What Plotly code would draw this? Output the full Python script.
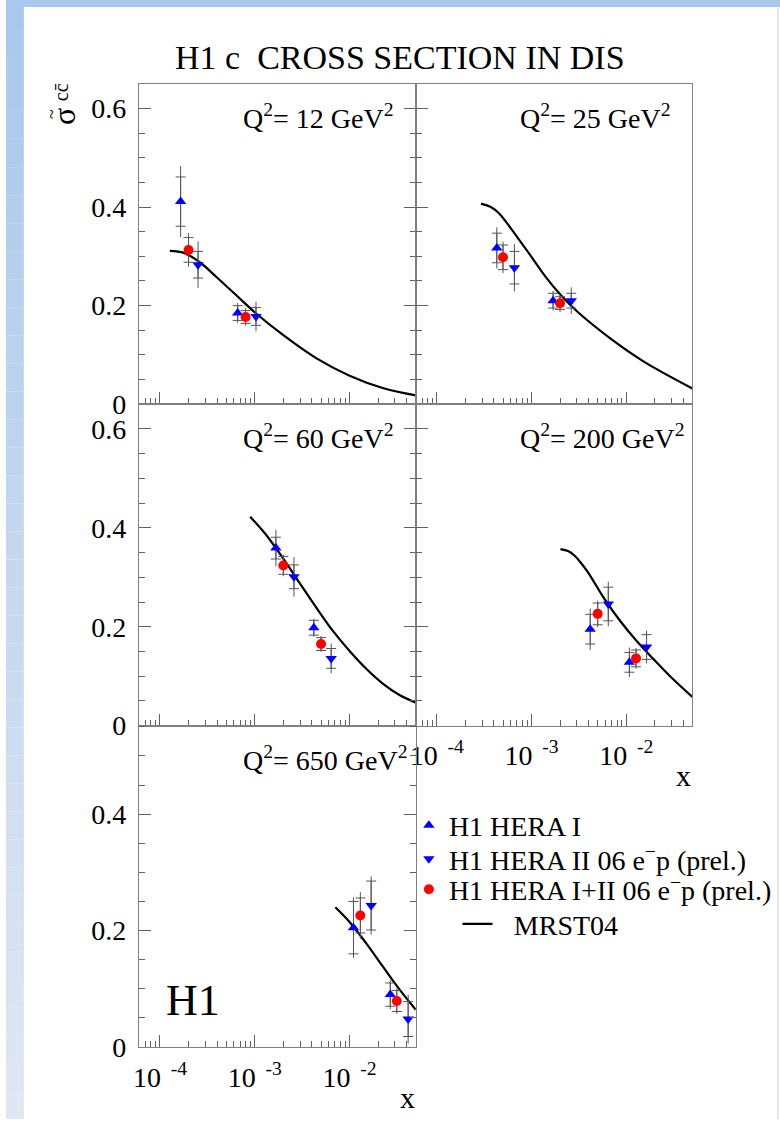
import math
import plotly.graph_objects as go

W, H = 780, 1135
FONT = "Liberation Serif, Times New Roman, Times, Tinos, DejaVu Serif, serif"

# ---------------- data ----------------
Q2_LABELS = ["12", "25", "60", "200", "650"]

# H1 HERA I  (upward triangles), one inner list per Q2 panel
HERA1_X = [[1.65e-4, 6.6e-4], [4.3e-4, 1.69e-3], [1.67e-3, 4.2e-3], [4.17e-3, 1.08e-2], [1.1e-2, 2.69e-2]]
HERA1_Y = [[0.411, 0.185], [0.317, 0.210], [0.359, 0.198], [0.195, 0.128], [0.205, 0.090]]
HERA1_STAT = [[0.050, 0.015], [0.030, 0.015], [0.022, 0.015], [0.030, 0.020], [0.045, 0.020]]
HERA1_TOT = [[0.072, 0.020], [0.042, 0.020], [0.037, 0.018], [0.042, 0.030], [0.052, 0.025]]

# H1 HERA II 06 e-p (downward triangles)
HERA2_X = [[2.52e-4, 1.03e-3], [6.6e-4, 2.63e-3], [2.59e-3, 6.4e-3], [6.47e-3, 1.64e-2], [1.69e-2, 4.15e-2]]
HERA2_Y = [[0.283, 0.178], [0.277, 0.210], [0.301, 0.136], [0.246, 0.159], [0.243, 0.048]]
HERA2_STAT = [[0.027, 0.018], [0.033, 0.015], [0.024, 0.020], [0.034, 0.025], [0.042, 0.030]]
HERA2_TOT = [[0.047, 0.030], [0.048, 0.027], [0.040, 0.030], [0.045, 0.033], [0.050, 0.042]]

# H1 HERA I+II 06 e-p (circles)
COMB_X = [[2.0e-4, 8.0e-4], [5.0e-4, 2.0e-3], [2.0e-3, 5.0e-3], [5.0e-3, 1.27e-2], [1.3e-2, 3.15e-2]]
COMB_Y = [[0.313, 0.177], [0.298, 0.205], [0.324, 0.165], [0.226, 0.136], [0.226, 0.079]]
COMB_STAT = [[0.025, 0.013], [0.025, 0.013], [0.018, 0.013], [0.022, 0.017], [0.030, 0.018]]
COMB_TOT = [[0.034, 0.018], [0.032, 0.018], [0.022, 0.016], [0.027, 0.021], [0.040, 0.022]]

# MRST04 prediction curves
MRST_X = [
    [1.27e-4, 1.79e-4, 2.67e-4, 3.99e-4, 6.47e-4, 1.02e-3, 2.0e-3, 4.48e-3, 1.0e-2, 2.24e-2, 5.0e-2],
    [2.93e-4, 3.72e-4, 4.55e-4, 5.33e-4, 6.25e-4, 9.33e-4, 1.39e-3, 2.07e-3, 3.08e-3, 6.84e-3,
     1.52e-2, 5.0e-2],
    [8.93e-4, 1.34e-3, 2.0e-3, 2.99e-3, 4.48e-3, 6.7e-3, 1.0e-2, 1.5e-2, 2.24e-2, 3.36e-2, 5.0e-2],
    [2.02e-3, 2.43e-3, 2.84e-3, 3.33e-3, 3.92e-3, 5.82e-3, 8.69e-3, 1.29e-2, 1.93e-2, 2.87e-2, 5.0e-2],
    [7.08e-3, 1.0e-2, 1.5e-2, 2.24e-2, 3.36e-2, 5.0e-2],
]
MRST_Y = [
    [0.311, 0.307, 0.287, 0.257, 0.220, 0.185, 0.140, 0.093, 0.058, 0.033, 0.018],
    [0.407, 0.400, 0.387, 0.371, 0.353, 0.307, 0.260, 0.220, 0.187, 0.133, 0.087, 0.032],
    [0.4226, 0.384, 0.3375, 0.2876, 0.238, 0.191, 0.151, 0.115, 0.085, 0.062, 0.0465],
    [0.357, 0.353, 0.344, 0.329, 0.311, 0.258, 0.211, 0.171, 0.135, 0.101, 0.058],
    [0.240, 0.2147, 0.178, 0.1385, 0.099, 0.064],
]

X_TICKS = [1e-4, 1e-3, 1e-2]
X_TICK_TEXT = ["10<sup>\u2002-4</sup>", "10<sup>\u2002-3</sup>", "10<sup>\u2002-2</sup>"]
Y_TICKS = [0, 0.2, 0.4, 0.6]
Y_TICK_TEXT = ["0", "0.2", "0.4", "0.6"]

# ---------------- layout geometry ----------------
PANEL_COL = [0, 1, 0, 1, 0]
PANEL_ROW = [0, 0, 1, 1, 2]
COL_PX = [(134, 413), (413, 691.7)]
ROW_PX = [(85, 410), (410, 736), (736, 1062)]
Y_MAX = [0.65, 0.65, 0.65, 0.65, 0.552]
X_RANGE = [6e-5, 0.05]

BLUE = "#0000ff"
RED = "#ff0000"
ERRC = "#555555"
AXC = "#808080"
TICKC = "#606060"

x_minor = [m * 10.0 ** e for e in (-5, -4, -3, -2) for m in range(2, 10)
           if X_RANGE[0] <= m * 10.0 ** e <= X_RANGE[1]]

fig = go.Figure()

series = [
    ("H1 HERA I", HERA1_X, HERA1_Y, HERA1_STAT, HERA1_TOT, "triangle-up", BLUE, "legend"),
    ("H1 HERA II 06 e<sup>\u2212</sup>p (prel.)", HERA2_X, HERA2_Y, HERA2_STAT, HERA2_TOT,
     "triangle-down", BLUE, "legend2"),
    ("H1 HERA I+II 06 e<sup>\u2212</sup>p (prel.)", COMB_X, COMB_Y, COMB_STAT, COMB_TOT,
     "circle", RED, "legend3"),
]

for i in range(5):
    xa = "x" if i == 0 else f"x{i + 1}"
    ya = "y" if i == 0 else f"y{i + 1}"
    first = i == 0
    fig.add_trace(go.Scatter(
        x=MRST_X[i], y=MRST_Y[i], mode="lines", line=dict(color="black", width=2.2, shape="spline"),
        name="\u2002\u200aMRST04", legend="legend4", showlegend=first, xaxis=xa, yaxis=ya,
        hoverinfo="skip"))
    for name, sx, sy, sst, stot, sym, col, lg in series:
        fig.add_trace(go.Scatter(
            x=sx[i], y=sy[i], mode="markers", marker=dict(size=1, color="rgba(0,0,0,0)"),
            error_y=dict(type="data", array=stot[i], visible=True, color=ERRC, thickness=1, width=0),
            showlegend=False, xaxis=xa, yaxis=ya, hoverinfo="skip"))
    for name, sx, sy, sst, stot, sym, col, lg in series:
        fig.add_trace(go.Scatter(
            x=sx[i], y=sy[i], mode="markers", name=name,
            marker=dict(symbol=sym, size=10, color=col, line=dict(width=0)),
            error_y=dict(type="data", array=sst[i], visible=True, color=ERRC, thickness=1, width=5),
            showlegend=first, legend=lg, xaxis=xa, yaxis=ya))

layout = dict(
    width=W, height=H, autosize=False,
    margin=dict(l=0, r=0, t=0, b=0),
    paper_bgcolor="white", plot_bgcolor="white",
    font=dict(family=FONT, color="black"),
)

for i in range(5):
    c, r = PANEL_COL[i], PANEL_ROW[i]
    x0, x1 = COL_PX[c]
    yt, yb = ROW_PX[r]
    xk = "xaxis" if i == 0 else f"xaxis{i + 1}"
    yk = "yaxis" if i == 0 else f"yaxis{i + 1}"
    xa = "x" if i == 0 else f"x{i + 1}"
    ya = "y" if i == 0 else f"y{i + 1}"
    layout[xk] = dict(
        type="log", range=[math.log10(X_RANGE[0]), math.log10(X_RANGE[1])],
        domain=[x0 / W, x1 / W], anchor=ya,
        showline=True, linecolor=AXC, linewidth=1, mirror=True,
        ticks="inside", ticklen=12, tickwidth=1, tickcolor=TICKC,
        tickmode="array", tickvals=X_TICKS, ticktext=X_TICK_TEXT,
        showticklabels=i in (3, 4), ticklabelstandoff=5,
        tickfont=dict(family=FONT, size=28, color="black"),
        minor=dict(ticks="inside", ticklen=6, tickwidth=1, tickcolor=TICKC,
                   tickmode="array", tickvals=x_minor, showgrid=False),
        showgrid=False, zeroline=False, fixedrange=True,
    )
    layout[yk] = dict(
        range=[0, Y_MAX[i]], domain=[1 - yb / H, 1 - yt / H], anchor=xa,
        showline=True, linecolor=AXC, linewidth=1, mirror="ticks" if c == 0 else True,
        ticks="inside", ticklen=12, tickwidth=1, tickcolor=TICKC,
        tickmode="array", tickvals=Y_TICKS, ticktext=Y_TICK_TEXT,
        showticklabels=c == 0, ticklabelstandoff=6,
        tickfont=dict(family=FONT, size=28, color="black"),
        minor=dict(ticks="inside", ticklen=6, tickwidth=1, tickcolor=TICKC,
                   tickmode="linear", tick0=0, dtick=0.05, showgrid=False),
        showgrid=False, zeroline=False, fixedrange=True,
    )

# one legend box per entry, so the rows sit where the reference puts them
LEGEND_TOPS = {"legend": (406, 812), "legend2": (406, 846), "legend3": (406, 877), "legend4": (455, 912)}
for key, (lx, ly) in LEGEND_TOPS.items():
    layout[key] = dict(
        x=lx / W, y=1 - ly / H, xanchor="left", yanchor="top",
        font=dict(family=FONT, size=28, color="black"), bgcolor="rgba(0,0,0,0)",
        itemclick=False, itemdoubleclick=False,
    )

annotations = []
annotations.append(dict(text="H1 c\u00a0 CROSS SECTION IN DIS", x=397 / W, y=1 - 58 / H,
                        xref="paper", yref="paper", xanchor="center", yanchor="middle",
                        showarrow=False, font=dict(family=FONT, size=34, color="black")))
for i in range(5):
    c, r = PANEL_COL[i], PANEL_ROW[i]
    annotations.append(dict(
        text=f"Q<sup>2</sup>= {Q2_LABELS[i]} GeV<sup>2</sup>",
        x=(COL_PX[c][0] + 103) / W, y=1 - (ROW_PX[r][0] + 33) / H,
        xref="paper", yref="paper", xanchor="left", yanchor="middle",
        showarrow=False, font=dict(family=FONT, size=28, color="black")))
# y-axis title: sigma-tilde with c c-bar superscript, rotated
annotations.append(dict(text="\u03c3", x=59 / W, y=1 - 118 / H,
                        xref="paper", yref="paper", xanchor="center", yanchor="middle",
                        textangle=-90, showarrow=False,
                        font=dict(family=FONT, size=32, color="black")))
annotations.append(dict(text="cc\u0304", x=55 / W, y=1 - 94 / H,
                        xref="paper", yref="paper", xanchor="center", yanchor="middle",
                        textangle=-90, showarrow=False,
                        font=dict(family=FONT, size=20, color="black")))
annotations.append(dict(text="~", x=47 / W, y=1 - 116 / H,
                        xref="paper", yref="paper", xanchor="center", yanchor="middle",
                        textangle=-90, showarrow=False,
                        font=dict(family=FONT, size=18, color="black")))
annotations.append(dict(text="x", x=405 / W, y=1 - 1113 / H, xref="paper", yref="paper",
                        xanchor="center", yanchor="middle", showarrow=False,
                        font=dict(family=FONT, size=30, color="black")))
annotations.append(dict(text="x", x=683 / W, y=1 - 787 / H, xref="paper", yref="paper",
                        xanchor="center", yanchor="middle", showarrow=False,
                        font=dict(family=FONT, size=30, color="black")))
annotations.append(dict(text="H1", x=188 / W, y=1 - 1015 / H, xref="paper", yref="paper",
                        xanchor="center", yanchor="middle", showarrow=False,
                        font=dict(family=FONT, size=44, color="black")))
layout["annotations"] = annotations

# background frame: light-blue band on top and gradient band on the left
shapes = [dict(type="rect", xref="paper", yref="paper", x0=0, x1=1, y0=1 - 7 / H, y1=1,
               fillcolor="#a9c8ec", line=dict(width=0), layer="above")]
n = 40
top_rgb = (169, 200, 236)
bot_rgb = (223, 231, 242)
for k in range(n):
    t = k / (n - 1)
    col = tuple(round(a + (b - a) * t) for a, b in zip(top_rgb, bot_rgb))
    shapes.append(dict(type="rect", xref="paper", yref="paper",
                       x0=0, x1=18 / W, y0=1 - (k + 1) / n, y1=1 - k / n,
                       fillcolor=f"rgb{col}", line=dict(width=0), layer="above"))
shapes.append(dict(type="line", xref="paper", yref="paper", x0=778 / W, x1=778 / W, y0=0, y1=1 - 7 / H,
                   line=dict(color="#d0d0d0", width=1), layer="below"))
layout["shapes"] = shapes

fig.update_layout(**layout)
fig.write_html("out.html", config={"displayModeBar": False},
               post_script="document.body.style.margin='0px';document.body.style.overflow='hidden';")
